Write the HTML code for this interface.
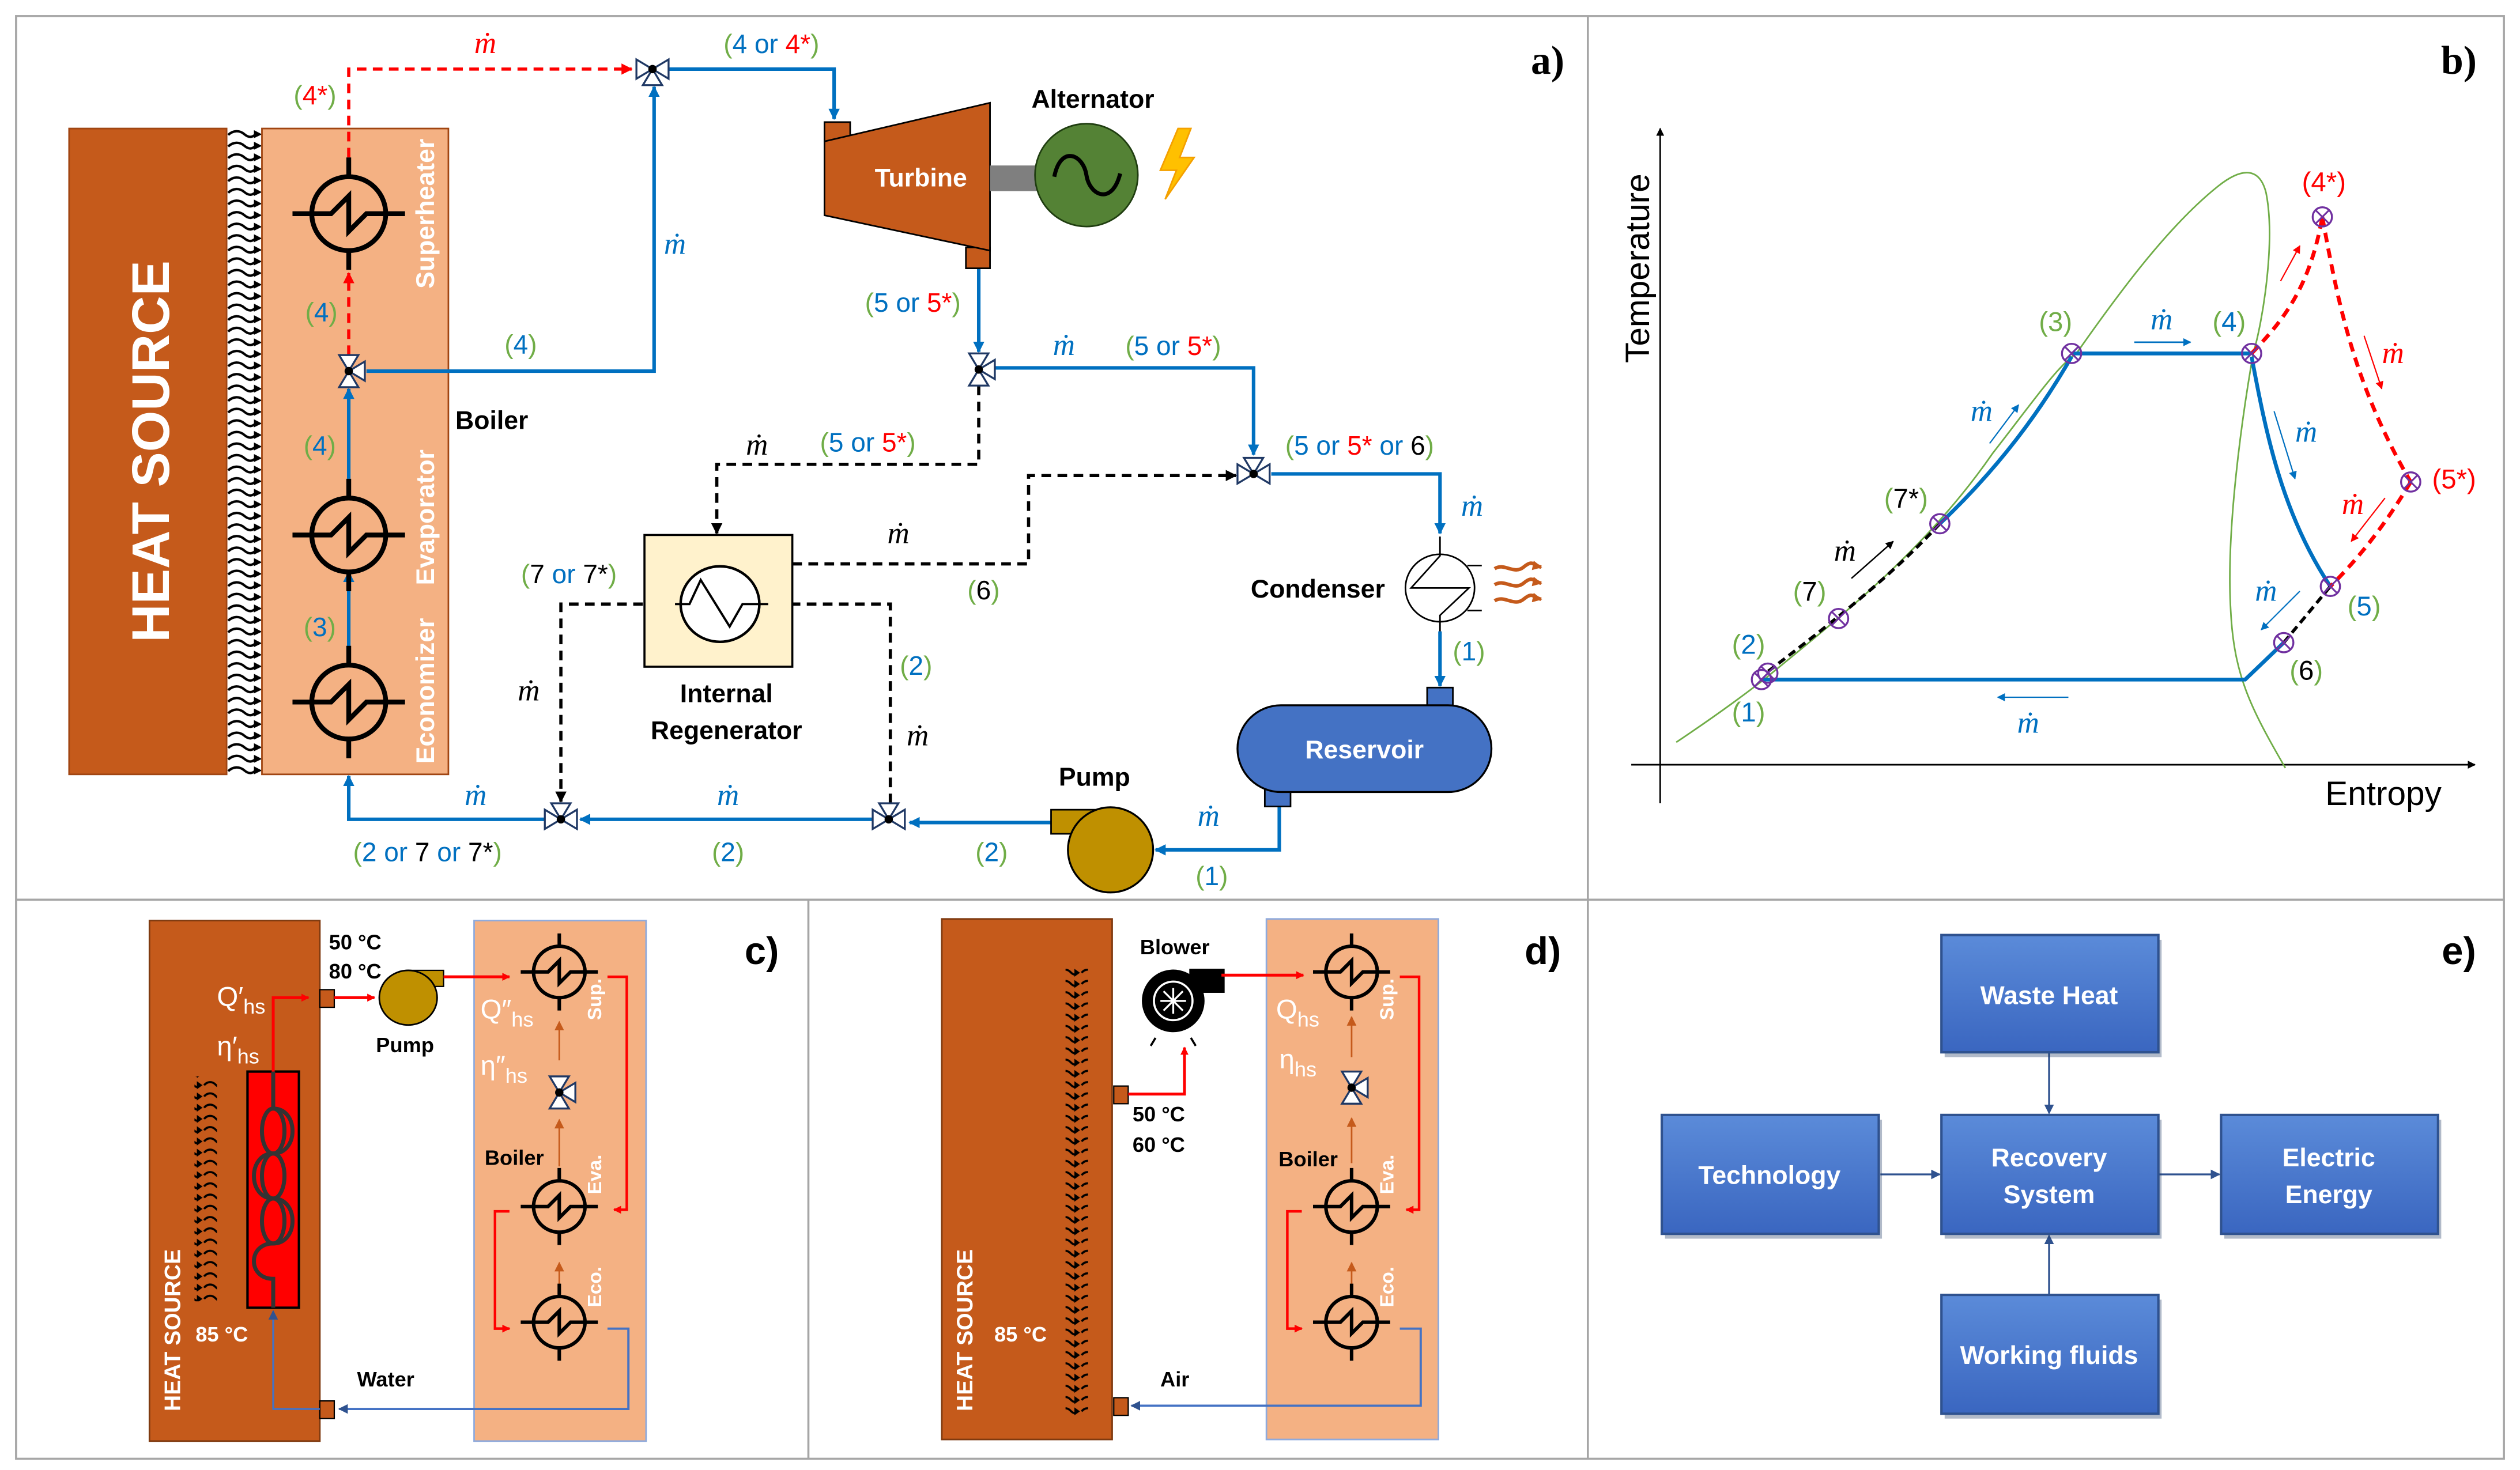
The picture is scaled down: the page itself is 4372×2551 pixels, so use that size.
<!DOCTYPE html>
<html><head><meta charset="utf-8"><style>
html,body{margin:0;padding:0;background:#fff;}
svg{display:block;}
text{font-family:"Liberation Sans",sans-serif;}
.l{font-size:16.5px;}
.m{font-family:"Liberation Serif",serif;font-style:italic;font-size:19px;}
.b{font-weight:bold;}
.g{fill:#70AD47}.u{fill:#0070C0}.r{fill:#FF0000}.k{fill:#000}
</style></head><body>
<svg width="4372" height="2551" viewBox="0 0 1568 915" preserveAspectRatio="none" xmlns="http://www.w3.org/2000/svg">
<defs>
<marker id="ab" viewBox="0 0 10 10" refX="9" refY="5" markerWidth="7" markerHeight="7" markerUnits="userSpaceOnUse" orient="auto"><path d="M0,0L10,5L0,10z" fill="#0070C0"/></marker>
<marker id="ar" viewBox="0 0 10 10" refX="9" refY="5" markerWidth="7" markerHeight="7" markerUnits="userSpaceOnUse" orient="auto"><path d="M0,0L10,5L0,10z" fill="#FF0000"/></marker>
<marker id="ak" viewBox="0 0 10 10" refX="9" refY="5" markerWidth="7" markerHeight="7" markerUnits="userSpaceOnUse" orient="auto"><path d="M0,0L10,5L0,10z" fill="#000"/></marker>
<marker id="ao" viewBox="0 0 10 10" refX="9" refY="5" markerWidth="6" markerHeight="6" markerUnits="userSpaceOnUse" orient="auto"><path d="M0,0L10,5L0,10z" fill="#C55A1B"/></marker>
<marker id="an" viewBox="0 0 10 10" refX="9" refY="5" markerWidth="6" markerHeight="6" markerUnits="userSpaceOnUse" orient="auto"><path d="M0,0L10,5L0,10z" fill="#2F528F"/></marker>
<marker id="ar2" viewBox="0 0 10 10" refX="9" refY="5" markerWidth="5" markerHeight="5" markerUnits="userSpaceOnUse" orient="auto"><path d="M0,0L10,5L0,10z" fill="#FF0000"/></marker>
<marker id="ab2" viewBox="0 0 10 10" refX="9" refY="5" markerWidth="5" markerHeight="5" markerUnits="userSpaceOnUse" orient="auto"><path d="M0,0L10,5L0,10z" fill="#0070C0"/></marker>
<marker id="ak2" viewBox="0 0 10 10" refX="9" refY="5" markerWidth="5" markerHeight="5" markerUnits="userSpaceOnUse" orient="auto"><path d="M0,0L10,5L0,10z" fill="#000"/></marker>
<pattern id="sq" x="141" y="80" width="22" height="7.2" patternUnits="userSpaceOnUse">
<path d="M1,4 C4,1 8,1 11,3.5 S16,5.5 18,3.6" fill="none" stroke="#000" stroke-width="1.5"/><path d="M17,1 L22,3.6 L17,6z" fill="#000"/></pattern>
<pattern id="sq2" x="0" y="0" width="14" height="7" patternUnits="userSpaceOnUse">
<path d="M1,3.5 C3,1 6,1 8,3 S11,5 11.5,3.5" fill="none" stroke="#000" stroke-width="1.3"/><path d="M10.5,1 L14,3.5 L10.5,6z" fill="#000"/></pattern>
<g id="hx"><circle r="23" fill="none" stroke="#000" stroke-width="3"/><path d="M-35,0H-11L0,-11V11L11,0H35M0,-35V-23M0,23V35" fill="none" stroke="#000" stroke-width="3"/></g>
<g id="hxs"><circle r="16" fill="none" stroke="#000" stroke-width="2.2"/><path d="M-24,0H-7L0,-7V7L7,0H24M0,-24V-16M0,16V24" fill="none" stroke="#000" stroke-width="2.2"/></g>
<polygon id="tR" points="0,0 10,-6 10,6" fill="#fff" stroke="#1F3864" stroke-width="1.2"/>
<polygon id="tL" points="0,0 -10,-6 -10,6" fill="#fff" stroke="#1F3864" stroke-width="1.2"/>
<polygon id="tU" points="0,0 -6,-10 6,-10" fill="#fff" stroke="#1F3864" stroke-width="1.2"/>
<polygon id="tD" points="0,0 -6,10 6,10" fill="#fff" stroke="#1F3864" stroke-width="1.2"/>
<circle id="dot" r="2.6" fill="#000"/>
<g id="pt"><circle r="6" fill="none" stroke="#7030A0" stroke-width="1.2"/><path d="M-4.2,-4.2L4.2,4.2M4.2,-4.2L-4.2,4.2" stroke="#7030A0" stroke-width="1.1"/></g>
<linearGradient id="bx" x1="0" y1="0" x2="0" y2="1"><stop offset="0" stop-color="#5B8BD9"/><stop offset="1" stop-color="#3A66C0"/></linearGradient>
</defs>

<g stroke="#A6A6A6" stroke-width="1.3" fill="none">
<rect x="10" y="10" width="1548" height="898"/>
<line x1="10" y1="560" x2="1558" y2="560"/>
<line x1="988" y1="10" x2="988" y2="908"/>
<line x1="503" y1="560" x2="503" y2="908"/>
</g>

<rect x="43" y="80" width="98" height="402" fill="#C55A1B" stroke="#A04512" stroke-width="1"/>
<text transform="translate(105,281) rotate(-90)" text-anchor="middle" fill="#fff" class="b" style="font-size:33px">HEAT SOURCE</text>
<rect x="141" y="80" width="22" height="402" fill="url(#sq)"/>
<rect x="163" y="80" width="116" height="402" fill="#F4B183" stroke="#A04512" stroke-width="1"/>
<g fill="#fff" class="b" style="font-size:16px">
<text transform="translate(270,133) rotate(-90)" text-anchor="middle">Superheater</text>
<text transform="translate(270,322) rotate(-90)" text-anchor="middle">Evaporator</text>
<text transform="translate(270,430) rotate(-90)" text-anchor="middle">Economizer</text>
</g>
<path d="M217,98 V43 H393" fill="none" stroke="#FF0000" stroke-width="2" stroke-dasharray="6,4" marker-end="url(#ar)"/>
<path d="M217,221 V170" fill="none" stroke="#FF0000" stroke-width="2" stroke-dasharray="6,4" marker-end="url(#ar)"/>
<g fill="none" stroke="#0070C0" stroke-width="2.2">
<path d="M228,231 H407 V54" marker-end="url(#ab)"/>
<path d="M416,43 H519 V74" marker-end="url(#ab)"/>
<path d="M609,167 V219" marker-end="url(#ab)"/>
<path d="M619,229 H780 V283" marker-end="url(#ab)"/>
<path d="M791,295 H896 V332" marker-end="url(#ab)"/>
<path d="M896,393 V427" marker-end="url(#ab)"/>
<path d="M796,502 V529 H719" marker-end="url(#ab)"/>
<path d="M654,512 H566" marker-end="url(#ab)"/>
<path d="M543,510 H361" marker-end="url(#ab)"/>
<path d="M340,510 H217 V483" marker-end="url(#ab)"/>
<path d="M217,415 V356" marker-end="url(#ab)"/>
<path d="M217,298 V242" marker-end="url(#ab)"/>
</g>
<g fill="none" stroke="#000" stroke-width="2" stroke-dasharray="6,4">
<path d="M609,240 V289 H446 V332" marker-end="url(#ak)"/>
<path d="M493,351 H640 V296 H769" marker-end="url(#ak)"/>
<path d="M554,500 V376 H479" marker-end="url(#ak)"/>
<path d="M420,376 H349 V499" marker-end="url(#ak)"/>
</g>
<use href="#hx" x="217" y="133"/><use href="#hx" x="217" y="333"/><use href="#hx" x="217" y="437"/>
<g><use href="#tU" x="217" y="231"/><use href="#tD" x="217" y="231"/><use href="#tR" x="217" y="231"/><use href="#dot" x="217" y="231"/></g>
<g><use href="#tL" x="406" y="43"/><use href="#tR" x="406" y="43"/><use href="#tD" x="406" y="43"/><use href="#dot" x="406" y="43"/></g>
<g><use href="#tU" x="609" y="230"/><use href="#tD" x="609" y="230"/><use href="#tR" x="609" y="230"/><use href="#dot" x="609" y="230"/></g>
<g><use href="#tU" x="780" y="295"/><use href="#tL" x="780" y="295"/><use href="#tR" x="780" y="295"/><use href="#dot" x="780" y="295"/></g>
<g><use href="#tU" x="349" y="510"/><use href="#tL" x="349" y="510"/><use href="#tR" x="349" y="510"/><use href="#dot" x="349" y="510"/></g>
<g><use href="#tU" x="553" y="510"/><use href="#tL" x="553" y="510"/><use href="#tR" x="553" y="510"/><use href="#dot" x="553" y="510"/></g>
<rect x="513" y="76" width="16" height="12" fill="#C55A1B" stroke="#000" stroke-width="1"/>
<rect x="601" y="154" width="15" height="13" fill="#C55A1B" stroke="#000" stroke-width="1"/>
<polygon points="513,88 616,64 616,156 513,134" fill="#C55A1B" stroke="#000" stroke-width="1"/>
<text x="573" y="116" text-anchor="middle" fill="#fff" class="b" style="font-size:16px">Turbine</text>
<rect x="616" y="103" width="29" height="16" fill="#7F7F7F"/>
<circle cx="676" cy="109" r="32" fill="#548235" stroke="#1F3D10" stroke-width="1"/>
<path d="M656,110 C660,90 674,96 676,109 C678,122 692,128 697,108" fill="none" stroke="#000" stroke-width="2.5"/>
<polygon points="733,80 722,106 732,106 725,124 743,98 734,98 741,80" fill="#FFC000" stroke="#F4A000" stroke-width="1"/>
<text x="680" y="67" text-anchor="middle" class="b" style="font-size:16px">Alternator</text>
<rect x="401" y="333" width="92" height="82" fill="#FFF2CC" stroke="#000" stroke-width="1.3"/>
<ellipse cx="448" cy="376" rx="24.5" ry="23.5" fill="#fff" stroke="#000" stroke-width="1.6"/>
<path d="M420,376 H429 L436,361 L454,390 L462,376 H478" fill="none" stroke="#000" stroke-width="1.4"/>
<text x="452" y="437" text-anchor="middle" class="b" style="font-size:16px">Internal</text>
<text x="452" y="460" text-anchor="middle" class="b" style="font-size:16px">Regenerator</text>
<ellipse cx="896" cy="366" rx="21.5" ry="21" fill="#fff" stroke="#000" stroke-width="1"/>
<path d="M896,334 V346 L878,366 H914 L896,383 V393 M913,352 H922 M913,380 H922" fill="none" stroke="#000" stroke-width="1"/>
<g fill="none" stroke="#C55A1B" stroke-width="2.2" marker-end="url(#ao)">
<path d="M930,354 C936,350 942,358 948,353 S954,352 959,353"/>
<path d="M930,364 C936,360 942,368 948,363 S954,362 959,363"/>
<path d="M930,374 C936,370 942,378 948,373 S954,372 959,373"/>
</g>
<text x="820" y="372" text-anchor="middle" class="b" style="font-size:16px">Condenser</text>
<rect x="888" y="428" width="16" height="11" fill="#4472C4" stroke="#000" stroke-width="1"/>
<rect x="787" y="491" width="16" height="11" fill="#4472C4" stroke="#000" stroke-width="1"/>
<rect x="770" y="439" width="158" height="54" rx="27" fill="#4472C4" stroke="#000" stroke-width="1.2"/>
<text x="849" y="472" text-anchor="middle" fill="#fff" class="b" style="font-size:16px">Reservoir</text>
<rect x="654" y="504" width="31" height="15" fill="#BF9000" stroke="#000" stroke-width="1"/>
<circle cx="691" cy="529" r="26.5" fill="#BF9000" stroke="#000" stroke-width="1.2"/>
<text x="681" y="489" text-anchor="middle" class="b" style="font-size:16px">Pump</text>
<text x="306" y="267" text-anchor="middle" class="b" style="font-size:16px">Boiler</text>
<text x="302" y="33" text-anchor="middle" class="m r">ṁ</text>
<text x="480" y="33" text-anchor="middle" class="l"><tspan class="g">(</tspan><tspan class="u">4 or </tspan><tspan class="r">4*</tspan><tspan class="g">)</tspan></text>
<text x="196" y="65" text-anchor="middle" class="l"><tspan class="g">(</tspan><tspan class="r">4*</tspan><tspan class="g">)</tspan></text>
<text x="420" y="158" text-anchor="middle" class="m u">ṁ</text>
<text x="200" y="200" text-anchor="middle" class="l"><tspan class="g">(</tspan><tspan class="u">4</tspan><tspan class="g">)</tspan></text>
<text x="324" y="220" text-anchor="middle" class="l"><tspan class="g">(</tspan><tspan class="u">4</tspan><tspan class="g">)</tspan></text>
<text x="199" y="283" text-anchor="middle" class="l"><tspan class="g">(</tspan><tspan class="u">4</tspan><tspan class="g">)</tspan></text>
<text x="199" y="396" text-anchor="middle" class="l"><tspan class="g">(</tspan><tspan class="u">3</tspan><tspan class="g">)</tspan></text>
<text x="568" y="194" text-anchor="middle" class="l"><tspan class="g">(</tspan><tspan class="u">5 or </tspan><tspan class="r">5*</tspan><tspan class="g">)</tspan></text>
<text x="662" y="221" text-anchor="middle" class="m u">ṁ</text>
<text x="730" y="221" text-anchor="middle" class="l"><tspan class="g">(</tspan><tspan class="u">5 or </tspan><tspan class="r">5*</tspan><tspan class="g">)</tspan></text>
<text x="471" y="283" text-anchor="middle" class="m k">ṁ</text>
<text x="540" y="281" text-anchor="middle" class="l"><tspan class="g">(</tspan><tspan class="u">5 or </tspan><tspan class="r">5*</tspan><tspan class="g">)</tspan></text>
<text x="846" y="283" text-anchor="middle" class="l"><tspan class="g">(</tspan><tspan class="u">5 or </tspan><tspan class="r">5*</tspan><tspan class="u"> or </tspan><tspan class="k">6</tspan><tspan class="g">)</tspan></text>
<text x="916" y="321" text-anchor="middle" class="m u">ṁ</text>
<text x="559" y="338" text-anchor="middle" class="m k">ṁ</text>
<text x="612" y="373" text-anchor="middle" class="l"><tspan class="g">(</tspan><tspan class="k">6</tspan><tspan class="g">)</tspan></text>
<text x="354" y="363" text-anchor="middle" class="l"><tspan class="g">(</tspan><tspan class="k">7 </tspan><tspan class="u">or </tspan><tspan class="k">7*</tspan><tspan class="g">)</tspan></text>
<text x="329" y="436" text-anchor="middle" class="m k">ṁ</text>
<text x="570" y="420" text-anchor="middle" class="l"><tspan class="g">(</tspan><tspan class="u">2</tspan><tspan class="g">)</tspan></text>
<text x="571" y="464" text-anchor="middle" class="m k">ṁ</text>
<text x="914" y="411" text-anchor="middle" class="l"><tspan class="g">(</tspan><tspan class="u">1</tspan><tspan class="g">)</tspan></text>
<text x="752" y="514" text-anchor="middle" class="m u">ṁ</text>
<text x="754" y="551" text-anchor="middle" class="l"><tspan class="g">(</tspan><tspan class="u">1</tspan><tspan class="g">)</tspan></text>
<text x="617" y="536" text-anchor="middle" class="l"><tspan class="g">(</tspan><tspan class="u">2</tspan><tspan class="g">)</tspan></text>
<text x="453" y="501" text-anchor="middle" class="m u">ṁ</text>
<text x="453" y="536" text-anchor="middle" class="l"><tspan class="g">(</tspan><tspan class="u">2</tspan><tspan class="g">)</tspan></text>
<text x="296" y="501" text-anchor="middle" class="m u">ṁ</text>
<text x="266" y="536" text-anchor="middle" class="l"><tspan class="g">(</tspan><tspan class="u">2 or </tspan><tspan class="k">7 </tspan><tspan class="u">or </tspan><tspan class="k">7*</tspan><tspan class="g">)</tspan></text>
<text x="963" y="46" text-anchor="middle" class="b" style="font-family:'Liberation Serif',serif;font-size:25px">a)</text>

<text x="1530" y="46" text-anchor="middle" class="b" style="font-family:'Liberation Serif',serif;font-size:25px">b)</text>
<path d="M1033,500 V80" stroke="#000" stroke-width="1" marker-end="url(#ak2)"/>
<path d="M1015,476 H1540" stroke="#000" stroke-width="1" marker-end="url(#ak2)"/>
<text transform="translate(1026,167) rotate(-90)" text-anchor="middle" style="font-size:21px">Temperature</text>
<text x="1483" y="501" text-anchor="middle" style="font-size:21px">Entropy</text>
<path d="M1043,462 C1070,444 1090,429 1100,421 C1150,380 1200,340 1240,282 C1265,250 1280,228 1292,220 C1320,180 1350,140 1380,116 C1395,104 1406,104 1410,120 C1416,150 1408,200 1402,220 C1395,260 1385,330 1388,380 C1390,420 1400,440 1422,478" fill="none" stroke="#70AD47" stroke-width="1"/>
<g fill="none" stroke="#0070C0" stroke-width="2.4">
<path d="M1097,423 H1397 L1421,400"/>
<path d="M1289,220 H1401"/>
<path d="M1401,222 C1410,270 1420,320 1450,365"/>
<path d="M1289,222 C1270,255 1245,290 1207,326"/>
</g>
<g fill="none" stroke="#000" stroke-width="2" stroke-dasharray="5,3">
<path d="M1207,326 C1180,355 1150,380 1100,418"/>
<path d="M1421,400 L1450,365"/>
</g>
<g fill="none" stroke="#FF0000" stroke-width="2.4" stroke-dasharray="6,4">
<path d="M1401,220 C1420,200 1437,180 1445,135"/>
<path d="M1445,135 C1455,190 1465,240 1500,300"/>
<path d="M1500,300 C1485,325 1470,345 1450,365"/>
</g>
<use href="#pt" x="1096" y="423"/><use href="#pt" x="1100" y="419"/><use href="#pt" x="1144" y="385"/><use href="#pt" x="1207" y="326"/>
<use href="#pt" x="1289" y="220"/><use href="#pt" x="1401" y="220"/><use href="#pt" x="1445" y="135"/><use href="#pt" x="1500" y="300"/>
<use href="#pt" x="1450" y="365"/><use href="#pt" x="1421" y="400"/>
<path d="M1328,213 H1363" stroke="#0070C0" stroke-width="1" marker-end="url(#ab2)"/>
<path d="M1471,209 L1482,242" stroke="#FF0000" stroke-width="0.8" marker-end="url(#ar2)"/>
<path d="M1419,175 L1431,153" stroke="#FF0000" stroke-width="0.8" marker-end="url(#ar2)"/>
<path d="M1415,256 L1428,298" stroke="#0070C0" stroke-width="0.8" marker-end="url(#ab2)"/>
<path d="M1238,276 L1256,252" stroke="#0070C0" stroke-width="0.8" marker-end="url(#ab2)"/>
<path d="M1152,360 L1178,337" stroke="#000" stroke-width="0.9" marker-end="url(#ak2)"/>
<path d="M1287,434 H1243" stroke="#0070C0" stroke-width="0.8" marker-end="url(#ab2)"/>
<path d="M1484,310 L1463,337" stroke="#FF0000" stroke-width="0.8" marker-end="url(#ar2)"/>
<path d="M1431,368 L1407,392" stroke="#0070C0" stroke-width="0.8" marker-end="url(#ab2)"/>
<g style="font-size:17px" text-anchor="middle">
<text x="1446" y="119" class="r">(4*)</text>
<text x="1279" y="206"><tspan class="g">(</tspan><tspan class="g">3</tspan><tspan class="g">)</tspan></text>
<text x="1387" y="206"><tspan class="g">(</tspan><tspan class="u">4</tspan><tspan class="g">)</tspan></text>
<text x="1186" y="316"><tspan class="g">(</tspan><tspan class="k">7*</tspan><tspan class="g">)</tspan></text>
<text x="1126" y="374"><tspan class="g">(</tspan><tspan class="k">7</tspan><tspan class="g">)</tspan></text>
<text x="1088" y="407"><tspan class="g">(</tspan><tspan class="u">2</tspan><tspan class="g">)</tspan></text>
<text x="1088" y="449"><tspan class="g">(</tspan><tspan class="u">1</tspan><tspan class="g">)</tspan></text>
<text x="1527" y="304" class="r">(5*)</text>
<text x="1471" y="383"><tspan class="g">(</tspan><tspan class="u">5</tspan><tspan class="g">)</tspan></text>
<text x="1435" y="423"><tspan class="g">(</tspan><tspan class="k">6</tspan><tspan class="g">)</tspan></text>
</g>
<g text-anchor="middle">
<text x="1345" y="205" class="m u">ṁ</text>
<text x="1489" y="226" class="m r">ṁ</text>
<text x="1435" y="275" class="m u">ṁ</text>
<text x="1233" y="262" class="m u">ṁ</text>
<text x="1148" y="349" class="m k">ṁ</text>
<text x="1464" y="320" class="m r">ṁ</text>
<text x="1410" y="374" class="m u">ṁ</text>
<text x="1262" y="456" class="m u">ṁ</text>
</g>

<rect x="93" y="573" width="106" height="324" fill="#C55A1B" stroke="#7F3A10" stroke-width="1"/>
<rect x="295" y="573" width="107" height="324" fill="#F4B183" stroke="#8FAADC" stroke-width="1"/>
<text x="474" y="600" text-anchor="middle" class="b" style="font-size:24px">c)</text>
<text transform="translate(112,828) rotate(-90)" text-anchor="middle" fill="#fff" class="b" style="font-size:14px">HEAT SOURCE</text>
<text x="138" y="835" text-anchor="middle" fill="#fff" class="b" style="font-size:13px">85 °C</text>
<rect x="121" y="670" width="14" height="140" fill="url(#sq2)"/>
<rect x="154" y="667" width="32" height="147" fill="#FF0000" stroke="#000" stroke-width="1.5"/>
<g fill="none" stroke="#333" stroke-width="2.5">
<path d="M170,667 V690 C186,690 186,718 170,718 C154,718 154,746 170,746 C186,746 186,774 170,774 C154,774 154,796 170,796 V814"/>
<ellipse cx="170" cy="732" rx="7" ry="14"/><ellipse cx="170" cy="760" rx="7" ry="14"/><ellipse cx="170" cy="704" rx="7" ry="14"/>
</g>
<path d="M170,667 V621 H192" fill="none" stroke="#FF0000" stroke-width="1.8" marker-end="url(#ar2)"/>
<rect x="199" y="616" width="9" height="11" fill="#C55A1B" stroke="#000" stroke-width="0.8"/>
<path d="M208,621 H233" stroke="#FF0000" stroke-width="1.8" marker-end="url(#ar2)"/>
<rect x="253" y="604" width="23" height="10" fill="#BF9000" stroke="#000" stroke-width="0.8"/>
<ellipse cx="254" cy="621" rx="18" ry="17" fill="#BF9000" stroke="#000" stroke-width="1"/>
<path d="M276,608 H317" stroke="#FF0000" stroke-width="1.8" marker-end="url(#ar2)"/>
<text x="252" y="655" text-anchor="middle" class="b" style="font-size:13px">Pump</text>
<text x="221" y="591" text-anchor="middle" class="b" style="font-size:13px">50 °C</text>
<text x="221" y="609" text-anchor="middle" class="b" style="font-size:13px">80 °C</text>
<g fill="#fff" style="font-family:'Liberation Serif',serif;font-size:17px">
<text x="135" y="626">Q′<tspan style="font-size:13px" dy="5">hs</tspan></text>
<text x="135" y="657">η′<tspan style="font-size:13px" dy="5">hs</tspan></text>
<text x="299" y="634">Q″<tspan style="font-size:13px" dy="5">hs</tspan></text>
<text x="299" y="669">η″<tspan style="font-size:13px" dy="5">hs</tspan></text>
</g>
<g fill="none" stroke="#FF0000" stroke-width="1.6">
<path d="M378,608 H390 V753 H382" marker-end="url(#ar2)"/>
<path d="M317,754 H308 V827 H317" marker-end="url(#ar2)"/>
</g>
<path d="M378,827 H391 V877 H211" fill="none" stroke="#4472C4" stroke-width="1.4" marker-end="url(#an)"/>
<rect x="199" y="872" width="9" height="11" fill="#C55A1B" stroke="#000" stroke-width="0.8"/>
<path d="M199,877 H170 V816" fill="none" stroke="#4472C4" stroke-width="1.2" marker-end="url(#an)"/>
<text x="240" y="863" text-anchor="middle" class="b" style="font-size:13px">Water</text>
<g stroke="#C55A1B" stroke-width="1" marker-end="url(#ao)"><path d="M348,660 V636"/><path d="M348,726 V697"/><path d="M348,800 V786"/></g>
<use href="#hxs" x="348" y="605"/><use href="#hxs" x="348" y="751"/><use href="#hxs" x="348" y="823"/>
<g><use href="#tU" x="348" y="680"/><use href="#tD" x="348" y="680"/><use href="#tR" x="348" y="680"/><use href="#dot" x="348" y="680"/></g>
<text x="320" y="725" text-anchor="middle" class="b" style="font-size:13px">Boiler</text>
<g fill="#fff" class="b" style="font-size:12px">
<text transform="translate(374,622) rotate(-90)" text-anchor="middle">Sup.</text>
<text transform="translate(374,731) rotate(-90)" text-anchor="middle">Eva.</text>
<text transform="translate(374,801) rotate(-90)" text-anchor="middle">Eco.</text>
</g>

<rect x="586" y="572" width="106" height="324" fill="#C55A1B" stroke="#7F3A10" stroke-width="1"/>
<rect x="788" y="572" width="107" height="324" fill="#F4B183" stroke="#8FAADC" stroke-width="1"/>
<text x="960" y="600" text-anchor="middle" class="b" style="font-size:24px">d)</text>
<text transform="translate(605,828) rotate(-90)" text-anchor="middle" fill="#fff" class="b" style="font-size:14px">HEAT SOURCE</text>
<text x="635" y="835" text-anchor="middle" fill="#fff" class="b" style="font-size:13px">85 °C</text>
<rect x="663" y="603" width="14" height="278" fill="url(#sq2)"/>
<rect x="740" y="603" width="22" height="15" fill="#000"/>
<circle cx="730" cy="623" r="19.5" fill="#000"/>
<circle cx="730" cy="623" r="12" fill="none" stroke="#fff" stroke-width="1.3"/>
<path d="M722,623H738M730,615V631M724,617L736,629M736,617L724,629" stroke="#fff" stroke-width="1.2"/>
<path d="M719,646 L716,651 M741,646 L744,651" stroke="#000" stroke-width="1.3"/>
<text x="731" y="594" text-anchor="middle" class="b" style="font-size:13px">Blower</text>
<path d="M760,607 H811" stroke="#FF0000" stroke-width="1.8" marker-end="url(#ar2)"/>
<rect x="693" y="676" width="9" height="11" fill="#C55A1B" stroke="#000" stroke-width="0.8"/>
<path d="M702,681 H737 V652" fill="none" stroke="#FF0000" stroke-width="1.8" marker-end="url(#ar2)"/>
<text x="721" y="698" text-anchor="middle" class="b" style="font-size:13px">50 °C</text>
<text x="721" y="717" text-anchor="middle" class="b" style="font-size:13px">60 °C</text>
<g fill="#fff" style="font-family:'Liberation Serif',serif;font-size:17px">
<text x="794" y="634">Q<tspan style="font-size:13px" dy="5">hs</tspan></text>
<text x="796" y="665">η<tspan style="font-size:13px" dy="5">hs</tspan></text>
</g>
<g fill="none" stroke="#FF0000" stroke-width="1.6">
<path d="M871,608 H883 V753 H875" marker-end="url(#ar2)"/>
<path d="M810,754 H801 V827 H810" marker-end="url(#ar2)"/>
</g>
<path d="M871,827 H884 V875 H704" fill="none" stroke="#4472C4" stroke-width="1.4" marker-end="url(#an)"/>
<rect x="693" y="870" width="9" height="11" fill="#C55A1B" stroke="#000" stroke-width="0.8"/>
<text x="731" y="863" text-anchor="middle" class="b" style="font-size:13px">Air</text>
<g stroke="#C55A1B" stroke-width="1" marker-end="url(#ao)"><path d="M841,658 V633"/><path d="M841,724 V696"/><path d="M841,800 V786"/></g>
<use href="#hxs" x="841" y="605"/><use href="#hxs" x="841" y="751"/><use href="#hxs" x="841" y="823"/>
<g><use href="#tU" x="841" y="677"/><use href="#tD" x="841" y="677"/><use href="#tR" x="841" y="677"/><use href="#dot" x="841" y="677"/></g>
<text x="814" y="726" text-anchor="middle" class="b" style="font-size:13px">Boiler</text>
<g fill="#fff" class="b" style="font-size:12px">
<text transform="translate(867,622) rotate(-90)" text-anchor="middle">Sup.</text>
<text transform="translate(867,731) rotate(-90)" text-anchor="middle">Eva.</text>
<text transform="translate(867,801) rotate(-90)" text-anchor="middle">Eco.</text>
</g>

<text x="1530" y="600" text-anchor="middle" class="b" style="font-size:24px">e)</text>
<g stroke="#2F528F" stroke-width="1.2" fill="none">
<path d="M1275,655 V693" marker-end="url(#an)"/>
<path d="M1170,731 H1207" marker-end="url(#an)"/>
<path d="M1343,731 H1381" marker-end="url(#an)"/>
<path d="M1275,806 V769" marker-end="url(#an)"/>
</g>
<g>
<rect x="1210" y="585" width="135" height="73" fill="#1F3864" opacity="0.35"/>
<rect x="1208" y="582" width="135" height="73" fill="url(#bx)" stroke="#2F528F" stroke-width="1.5"/>
<rect x="1036" y="697" width="135" height="74" fill="#1F3864" opacity="0.35"/>
<rect x="1034" y="694" width="135" height="74" fill="url(#bx)" stroke="#2F528F" stroke-width="1.5"/>
<rect x="1210" y="697" width="135" height="74" fill="#1F3864" opacity="0.35"/>
<rect x="1208" y="694" width="135" height="74" fill="url(#bx)" stroke="#2F528F" stroke-width="1.5"/>
<rect x="1384" y="697" width="135" height="74" fill="#1F3864" opacity="0.35"/>
<rect x="1382" y="694" width="135" height="74" fill="url(#bx)" stroke="#2F528F" stroke-width="1.5"/>
<rect x="1210" y="809" width="135" height="74" fill="#1F3864" opacity="0.35"/>
<rect x="1208" y="806" width="135" height="74" fill="url(#bx)" stroke="#2F528F" stroke-width="1.5"/>
</g>
<g fill="#fff" class="b" text-anchor="middle" style="font-size:16px">
<text x="1275" y="625">Waste Heat</text>
<text x="1101" y="737">Technology</text>
<text x="1275" y="726">Recovery</text><text x="1275" y="749">System</text>
<text x="1449" y="726">Electric</text><text x="1449" y="749">Energy</text>
<text x="1275" y="849">Working fluids</text>
</g>
</svg>
</body></html>
